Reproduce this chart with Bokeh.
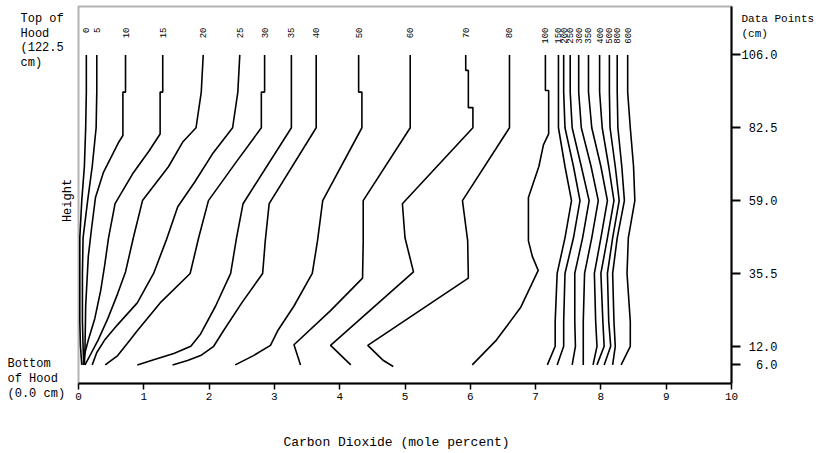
import math
from bokeh.plotting import figure
from bokeh.models import LinearAxis, FixedTicker, Label, Range1d, BoxAnnotation
from bokeh.embed import file_html
from bokeh.resources import INLINE
from bokeh.core.properties import value

FONT = "Liberation Mono"

# ---- data: CO2 (mole %) vs height (cm) for each elapsed-time curve ----
H10 = [6, 12, 20, 35.5, 47, 59, 70, 82.5, 94, 106]

T0_X = [0.05, 0.03, 0.02, 0.02, 0.02, 0.05, 0.09, 0.11, 0.12, 0.12]
T0_Y = H10
T5_X = [0.08, 0.07, 0.06, 0.06, 0.07, 0.14, 0.21, 0.27, 0.28, 0.28]
T5_Y = H10
T10_X = [0.09, 0.10, 0.11, 0.15, 0.20, 0.26, 0.38, 0.62, 0.68, 0.68, 0.72, 0.72]
T10_Y = [6, 12, 25, 41, 50, 60, 68, 78, 80, 94, 94, 106]
T15_X = [0.07, 0.10, 0.15, 0.25, 0.34, 0.40, 0.46, 0.56, 0.84, 1.08, 1.25, 1.25, 1.29, 1.29]
T15_Y = [6, 10, 14, 21, 30, 38, 47, 58, 68, 75, 80.5, 94, 94, 106]
T20_X = [0.10, 0.20, 0.30, 0.45, 0.60, 0.72, 0.84, 0.98, 1.38, 1.60, 1.80, 1.88, 1.91]
T20_Y = [6, 10, 14, 21, 29, 36, 47, 59, 70, 78, 82.5, 94, 106]
T25_X = [0.21, 0.28, 0.40, 0.60, 0.90, 1.15, 1.34, 1.52, 1.78, 2.05, 2.36, 2.44, 2.47]
T25_Y = [6, 10, 14, 19, 26, 35.5, 46, 57, 65, 74, 82.5, 94, 106]
T30_X = [0.41, 0.60, 0.75, 0.90, 1.25, 1.71, 1.84, 1.99, 2.40, 2.80, 2.80, 2.85, 2.85]
T30_Y = [6, 9, 13, 17, 26, 35.5, 47, 59, 71, 82.5, 94, 94, 106]
T35_X = [0.90, 1.20, 1.46, 1.72, 1.87, 2.10, 2.33, 2.42, 2.52, 3.26, 3.26]
T35_Y = [6, 8, 9.7, 12, 16, 25, 35.5, 47, 58, 82.5, 106]
T40_X = [1.44, 1.67, 1.87, 2.07, 2.22, 2.50, 2.82, 2.86, 2.92, 3.64, 3.64]
T40_Y = [6, 7.4, 9, 12, 17, 26, 35.5, 46, 58, 82.5, 106]
T50_X = [2.40, 2.68, 2.94, 3.05, 3.30, 3.58, 3.66, 3.74, 4.34, 4.34, 4.29, 4.29]
T50_Y = [6, 9, 12.3, 17, 25, 35.5, 46, 59, 82.5, 94, 94, 106]
T60_X = [3.40, 3.30, 3.86, 4.35, 4.36, 4.36, 5.08, 5.08]
T60_Y = [6, 12.5, 23.5, 34, 46, 59, 82.5, 106]
T70_X = [4.17, 3.86, 5.13, 5.00, 4.96, 6.04, 6.04, 5.97, 5.97, 5.93, 5.93]
T70_Y = [6, 12.3, 36, 47, 58, 82.5, 89, 89, 101, 101, 106]
T80_X = [4.82, 4.67, 4.43, 5.97, 5.96, 5.88, 6.60, 6.60]
T80_Y = [5.5, 7.4, 12.3, 34, 46, 59, 82.5, 106]
T100_X = [6.03, 6.40, 6.77, 7.04, 6.95, 6.89, 6.89, 7.05, 7.12, 7.20, 7.20, 7.15, 7.15]
T100_Y = [6, 14, 24.5, 36.5, 41, 46, 60, 70, 77, 80.5, 94.5, 94.5, 106]

T150_X = [7.18, 7.30, 7.30, 7.33, 7.45, 7.55, 7.45, 7.35, 7.35, 7.35]
T200_X = [7.33, 7.43, 7.43, 7.45, 7.58, 7.68, 7.58, 7.45, 7.43, 7.43]
T250_X = [7.56, 7.61, 7.60, 7.60, 7.72, 7.82, 7.70, 7.56, 7.53, 7.53]
T300_X = [7.73, 7.73, 7.73, 7.75, 7.86, 7.96, 7.85, 7.70, 7.66, 7.66]
T350_X = [7.88, 7.94, 7.92, 7.90, 8.00, 8.10, 8.00, 7.86, 7.81, 7.81]
T400_X = [7.94, 8.05, 8.03, 8.00, 8.10, 8.20, 8.12, 8.02, 7.98, 7.98]
T500_X = [8.05, 8.15, 8.12, 8.10, 8.18, 8.28, 8.22, 8.14, 8.13, 8.13]
T800_X = [8.18, 8.22, 8.20, 8.18, 8.25, 8.36, 8.32, 8.26, 8.25, 8.25]
T600_X = [8.31, 8.45, 8.45, 8.40, 8.42, 8.52, 8.50, 8.45, 8.41, 8.41]

CURVE_LABELS = ["0", "5", "10", "15", "20", "25", "30", "35", "40", "50", "60", "70", "80",
                "100", "150", "200", "250", "300", "350", "400", "500", "800", "600"]
CURVE_X = [T0_X, T5_X, T10_X, T15_X, T20_X, T25_X, T30_X, T35_X, T40_X, T50_X, T60_X,
           T70_X, T80_X, T100_X, T150_X, T200_X, T250_X, T300_X, T350_X, T400_X,
           T500_X, T800_X, T600_X]
CURVE_Y = [T0_Y, T5_Y, T10_Y, T15_Y, T20_Y, T25_Y, T30_Y, T35_Y, T40_Y, T50_Y, T60_Y,
           T70_Y, T80_Y, T100_Y, H10, H10, H10, H10, H10, H10, H10, H10, H10]

X_TICKS = [0, 1, 2, 3, 4, 5, 6, 7, 8, 9, 10]
DATA_POINTS = [6.0, 12.0, 35.5, 59.0, 82.5, 106.0]
DATA_POINT_LABELS = ["6.0", "12.0", "35.5", "59.0", "82.5", "106.0"]
X_MAX = 10
HOOD_TOP = 121.6

# ---- page geometry (pixels) ----
W, H = 835, 453
PX_PER_X = 65.3      # pixels per mole percent
PX_PER_Y = 3.1       # pixels per cm
ORIGIN_PX, ORIGIN_PY = 78, 383

def px2x(px):
    return (px - ORIGIN_PX) / PX_PER_X

def py2y(py):
    return (ORIGIN_PY - py) / PX_PER_Y

p = figure(width=W, height=H,
           x_range=Range1d(px2x(0), px2x(W)), y_range=Range1d(py2y(H), py2y(0)),
           output_backend="svg", toolbar_location=None,
           x_axis_location=None, y_axis_location=None,
           min_border_left=0, min_border_right=0, min_border_top=0, min_border_bottom=0)
p.xgrid.visible = False
p.ygrid.visible = False
p.outline_line_color = None
p.background_fill_color = "white"
p.border_fill_color = "white"

# frame of the plot area
p.add_layout(BoxAnnotation(left=0, right=X_MAX, bottom=0, top=HOOD_TOP,
                           fill_color=None, line_color="black", line_width=2))

# bottom axis (drawn at height 0)
xa = LinearAxis(ticker=FixedTicker(ticks=X_TICKS), fixed_location=0, bounds=(0, X_MAX))
xa.axis_line_width = 2
xa.major_tick_out = 6
xa.major_tick_in = 0
xa.major_tick_line_width = 1.5
xa.minor_tick_line_color = None
xa.major_label_standoff = 3
xa.major_label_text_font = FONT
xa.major_label_text_font_size = "11px"
xa.major_label_text_color = "black"
p.add_layout(xa, "below")

# right axis with the data-point heights (drawn at x = 10)
ra = LinearAxis(ticker=FixedTicker(ticks=DATA_POINTS), fixed_location=X_MAX, bounds=(0, HOOD_TOP))
ra.axis_line_width = 2
ra.major_tick_out = 9
ra.major_tick_in = 0
ra.major_tick_line_width = 2
ra.minor_tick_line_color = None
ra.major_label_overrides = {v: "" for v in DATA_POINTS}
p.add_layout(ra, "right")

# curves
for xs, ys in zip(CURVE_X, CURVE_Y):
    p.line(xs, ys, line_color="black", line_width=1.6)

# elapsed-time labels above each curve
tops = [xs[-1] for xs in CURVE_X]
p.text(x=tops, y=[py2y(27)] * len(tops), text=CURVE_LABELS, angle=math.pi / 2,
       text_align="right", text_baseline="middle", text_color="black",
       text_font=value(FONT), text_font_size=value("9px"))

# right-hand tick labels, right aligned
p.text(x=[px2x(777)] * len(DATA_POINTS), y=DATA_POINTS, text=DATA_POINT_LABELS,
       text_align="right", text_baseline="middle", text_color="black",
       text_font=value(FONT), text_font_size=value("12px"))

def lab(text, px, py, align="left", size="12px", angle=0.0):
    p.add_layout(Label(x=px2x(px), y=py2y(py), text=text, text_align=align,
                       text_baseline="middle", text_font=FONT, text_font_size=size,
                       text_color="black", angle=angle))

lab("Data Points", 741, 18, size="11px")
lab("(cm)", 741, 33, size="11px")
lab("Top of", 20, 18)
lab("Hood", 20, 33)
lab("(122.5", 20, 47)
lab("cm)", 20, 62)
lab("Bottom", 7, 363)
lab("of Hood", 7, 378)
lab("(0.0 cm)", 7, 393)
lab("Height", 67, 200, align="center", angle=math.pi / 2)
lab("Carbon Dioxide (mole percent)", 396, 442, align="center", size="13px")

open("out.html", "w").write(file_html(p, INLINE))
